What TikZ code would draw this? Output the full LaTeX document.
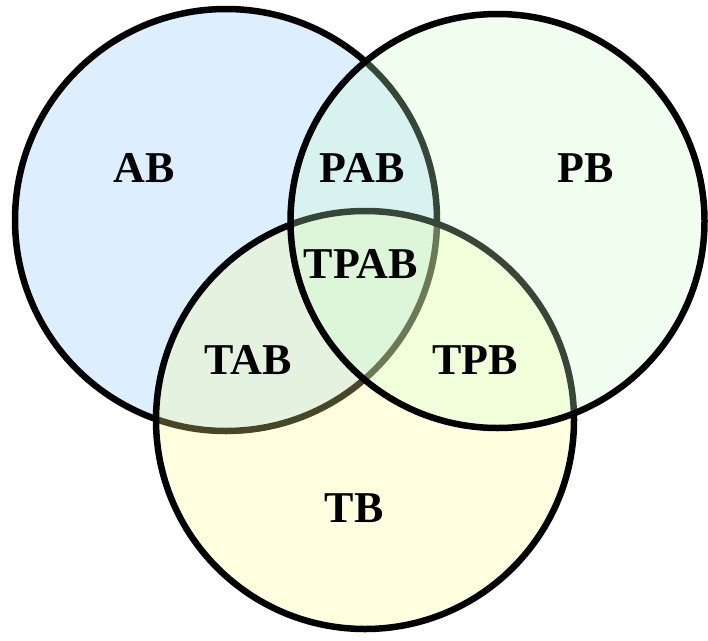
\documentclass[tikz,border=0pt]{standalone}
\usepackage{fontspec}
\setmainfont{Liberation Serif}[BoldFont={Liberation Serif Bold}]
\definecolor{afill}{RGB}{221,238,255}
\definecolor{tfill}{RGB}{255,255,144}
\definecolor{pfill}{RGB}{201,255,201}
\tikzset{
  setcircle/.style={circle, draw=black, line width=6.5pt, inner sep=0pt},
  setlabel/.style={inner sep=0pt, font=\fontsize{44}{44}\selectfont\bfseries}
}
\begin{document}
\begin{tikzpicture}[x=1pt, y=-1pt]
  \useasboundingbox (0,0) rectangle (708,640);
  % the three sets, drawn in this order so each translucent fill tints the outlines beneath it
  \node[setcircle, fill=afill, minimum size=422pt] (A) at (226,220) {};
  \node[setcircle, fill=tfill, fill opacity=0.28, minimum size=418pt] (T) at (365,420) {};
  \node[setcircle, fill=pfill, fill opacity=0.28, minimum size=414pt] (P) at (497.5,221) {};
  % region labels
  \node[setlabel] (ab)   at (144,168) {AB};
  \node[setlabel] (pb)   at (586,168) {PB};
  \node[setlabel] (pab)  at (362,168) {PAB};
  \node[setlabel] (tpab) at (361,264) {TPAB};
  \node[setlabel] (tab)  at (248,360) {TAB};
  \node[setlabel] (tpb)  at (475,360) {TPB};
  \node[setlabel] (tb)   at (354,508) {TB};
\end{tikzpicture}
\end{document}
